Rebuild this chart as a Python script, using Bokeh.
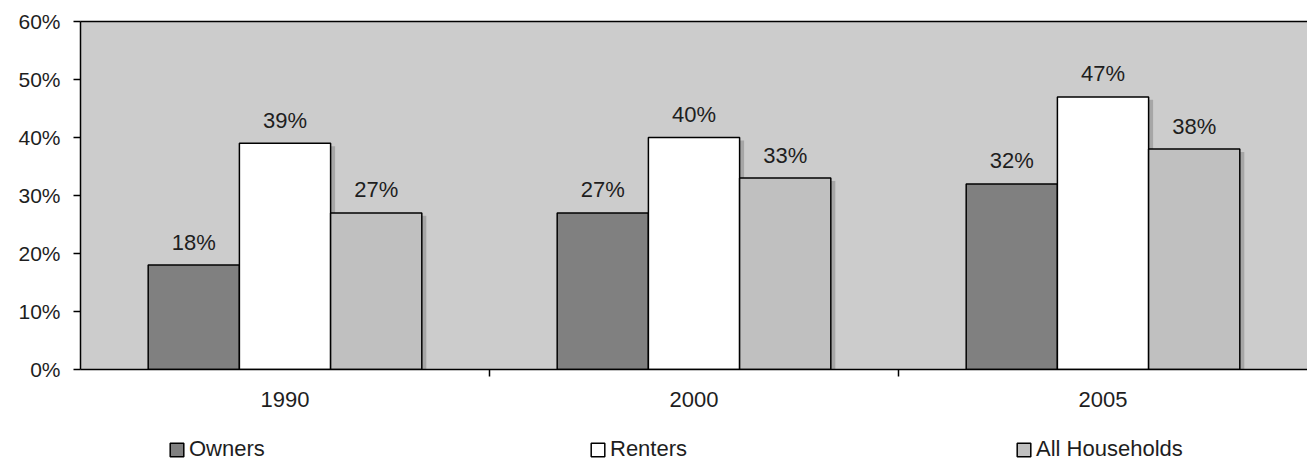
from bokeh.plotting import figure
from bokeh.layouts import column
from bokeh.models import (ColumnDataSource, Range1d, LinearAxis,
                          FixedTicker, Legend, LegendItem,
                          PrintfTickFormatter)
from bokeh.core.properties import value
from bokeh.transform import dodge
from bokeh.embed import file_html
from bokeh.resources import INLINE

# Share of households, by tenure and year (percent)
years = ["1990", "2000", "2005"]
owners = [18, 27, 32]
renters = [39, 40, 47]
all_households = [27, 33, 38]
series_names = ["Owners", "Renters", "All Households"]
y_ticks = [0, 10, 20, 30, 40, 50, 60]

FONT = "Liberation Sans"
TEXT = "#1E1E1E"
FS = "22px"

# one unit-wide slot per year; groups sit at slot centres
slot_centres = [i + 0.5 for i in range(len(years))]
slot_edges = [float(i) for i in range(1, len(years))]

W = 1307
LEG_H = 30
LEFT = 80

p = figure(width=W, height=461 - LEG_H,
           x_range=Range1d(0, len(years)),
           y_range=Range1d(0, 60),
           output_backend="svg", toolbar_location=None,
           x_axis_location=None, y_axis_location=None,
           min_border_left=LEFT, min_border_right=0,
           min_border_top=21, min_border_bottom=62)
p.background_fill_color = "#CCCCCC"
p.border_fill_color = "white"
p.outline_line_color = None
p.grid.visible = False

# y axis
yax = LinearAxis(ticker=FixedTicker(ticks=y_ticks),
                 formatter=PrintfTickFormatter(format="%d%%"))
yax.axis_line_color = "black"
yax.axis_line_width = 1.5
yax.major_tick_out = 7
yax.major_tick_in = 0
yax.major_tick_line_width = 1.5
yax.minor_tick_line_color = None
yax.major_label_standoff = 13
yax.major_label_text_font = FONT
yax.major_label_text_font_size = "21px"
yax.major_label_text_color = TEXT
p.add_layout(yax, "left")

# x axis: year labels under each group, short ticks between groups
xax = LinearAxis(ticker=FixedTicker(ticks=slot_centres, minor_ticks=slot_edges),
                 major_label_overrides={c: y for c, y in zip(slot_centres, years)})
xax.axis_line_color = "black"
xax.axis_line_width = 1.5
xax.major_tick_line_color = None
xax.major_tick_out = 0
xax.major_tick_in = 0
xax.minor_tick_line_color = "black"
xax.minor_tick_line_width = 1.5
xax.minor_tick_out = 7
xax.minor_tick_in = 0
xax.major_label_standoff = 15
xax.major_label_text_font = FONT
xax.major_label_text_font_size = FS
xax.major_label_text_color = TEXT
p.add_layout(xax, "below")

# top border of the plot area
top_ax = LinearAxis(ticker=FixedTicker(ticks=[]))
top_ax.axis_line_color = "black"
top_ax.axis_line_width = 1.5
top_ax.major_tick_line_color = None
top_ax.minor_tick_line_color = None
p.add_layout(top_ax, "above")

values = [owners, renters, all_households]
fills = ["#808080", "#FFFFFF", "#C0C0C0"]
bar_w = 0.223
offsets = [-bar_w, 0.0, bar_w]
shadow_dx = 4.5 / 409.0

sources = []
for vals in values:
    sources.append(ColumnDataSource(dict(
        x=slot_centres, val=vals,
        shadow_top=[v - 0.5 for v in vals],
        label=[f"{v}%" for v in vals])))

# drop shadows
for src, off in zip(sources, offsets):
    p.vbar(x=dodge("x", off + shadow_dx), top="shadow_top",
           width=bar_w, source=src, fill_color="#A6A6A6", line_color=None)

for src, off, col in zip(sources, offsets, fills):
    p.vbar(x=dodge("x", off), top="val", width=bar_w,
           source=src, fill_color=col, line_color="black", line_width=1.5)
    p.text(x=dodge("x", off), y="val", text="label",
           source=src, text_align="center", text_baseline="alphabetic",
           y_offset=-23, text_font=value(FONT), text_font_size=FS,
           text_color=TEXT)

# legend strip underneath the chart (its frame lines up with the chart's frame)
leg_fig = figure(width=W, height=LEG_H, x_range=Range1d(0, 1), y_range=Range1d(0, 1),
                 output_backend="svg", toolbar_location=None,
                 x_axis_location=None, y_axis_location=None,
                 min_border_left=LEFT, min_border_right=0,
                 min_border_top=0, min_border_bottom=0)
leg_fig.outline_line_color = None
leg_fig.grid.visible = False
leg_fig.background_fill_color = "white"
leg_fig.border_fill_color = "white"

legend_x = [88, 509, 935]
for name, col, lx in zip(series_names, fills, legend_x):
    # hidden key renderer; it only supplies the legend swatch style
    key = leg_fig.vbar(x=[0.5], top=[0.5], width=0.1,
                       fill_color=col, line_color="black", line_width=1.5)
    key.visible = False
    leg = Legend(items=[LegendItem(label=name, renderers=[key])],
                 location=(lx, -1), orientation="vertical",
                 glyph_width=17, glyph_height=17, label_standoff=4,
                 padding=0, margin=0, spacing=0,
                 border_line_color=None, background_fill_alpha=0,
                 inactive_fill_alpha=0,
                 label_text_font=FONT, label_text_font_size=FS,
                 label_text_color=TEXT, label_height=17, label_width=10)
    leg_fig.add_layout(leg)

layout = column(p, leg_fig, spacing=0)
open("out.html", "w").write(file_html(layout, INLINE))
